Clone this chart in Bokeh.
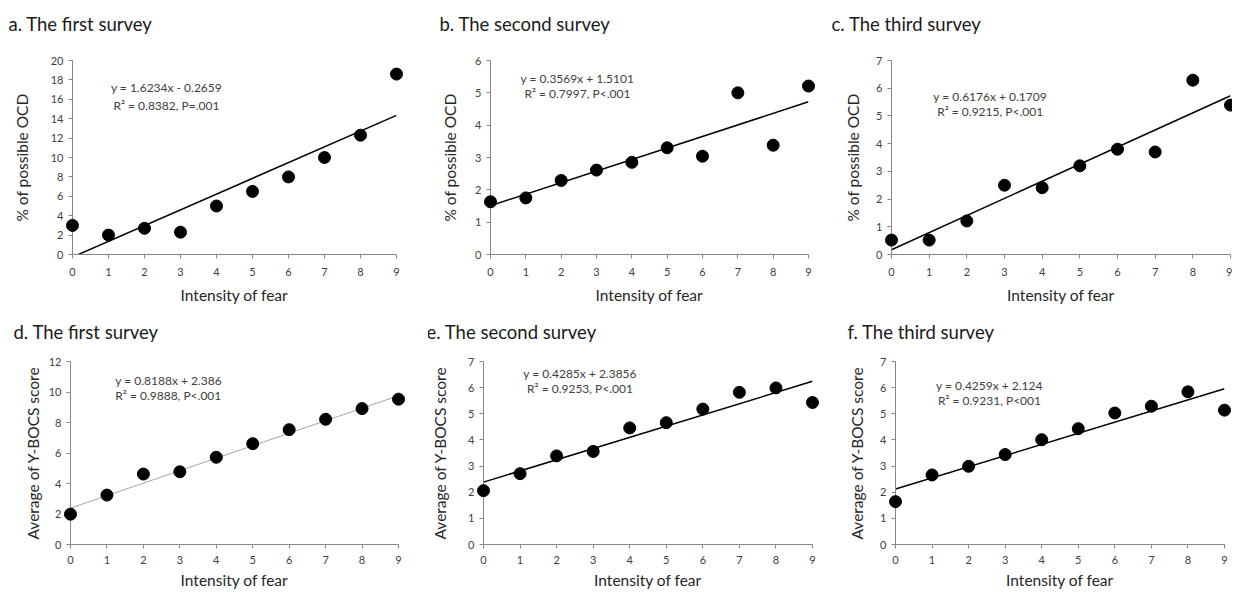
from bokeh.plotting import figure
from bokeh.layouts import row, column
from bokeh.models import Label, FixedTicker, Range1d, Title
from bokeh.embed import file_html
from bokeh.resources import INLINE

# ---------------- data ----------------
fear = [0, 1, 2, 3, 4, 5, 6, 7, 8, 9]

ocd_first = [3.0, 2.0, 2.7, 2.3, 5.0, 6.5, 8.0, 10.0, 12.3, 18.6]
ocd_second = [1.63, 1.75, 2.29, 2.61, 2.85, 3.30, 3.04, 5.0, 3.38, 5.21]
ocd_third = [0.52, 0.52, 1.21, 2.50, 2.41, 3.20, 3.80, 3.70, 6.29, 5.39]
ybocs_first = [1.99, 3.24, 4.62, 4.77, 5.72, 6.61, 7.53, 8.21, 8.91, 9.53]
ybocs_second = [2.06, 2.71, 3.39, 3.56, 4.46, 4.66, 5.18, 5.82, 5.99, 5.43]
ybocs_third = [1.64, 2.66, 2.99, 3.44, 4.01, 4.43, 5.03, 5.29, 5.84, 5.14]

slopes = [1.6234, 0.3569, 0.6176, 0.8188, 0.4285, 0.4259]
intercepts = [-0.2659, 1.5101, 0.1709, 2.386, 2.3856, 2.124]

titles = ["a. The first survey", "b. The second survey", "c. The third survey",
          "d. The first survey", "e. The second survey", "f. The third survey"]
equations = ["y = 1.6234x - 0.2659", "y = 0.3569x + 1.5101", "y = 0.6176x + 0.1709",
             "y = 0.8188x + 2.386", "y = 0.4285x + 2.3856", "y = 0.4259x + 2.124"]
stats = ["R\u00b2 = 0.8382, P=.001", "R\u00b2 = 0.7997, P<.001", "R\u00b2 = 0.9215, P<.001",
         "R\u00b2 = 0.9888, P<.001", "R\u00b2 = 0.9253, P<.001", "R\u00b2 = 0.9231, P<001"]
y_labels = ["% of possible OCD"] * 3 + ["Average of Y-BOCS score"] * 3
x_label = "Intensity of fear"
y_max = [20, 6, 7, 12, 7, 7]
y_step = [2, 1, 1, 2, 1, 1]
series = [ocd_first, ocd_second, ocd_third, ybocs_first, ybocs_second, ybocs_third]

# ---------------- layout / style ----------------
FONT = "Lato"
AXIS_COLOR = "#868686"
TEXT_COLOR = "#404040"

# lb/rb: borders, fw: frame width, ylab: y-label standoff,
# tx: title left relative to frame left (px), ex/ey: equation anchor
geo = [
    dict(lb=72, fw=324, rb=30, ylab=17, tx=-64, ex=2.61, ey1=17.2, ey2=15.4, al="center", lc="black", lw=1.5),
    dict(lb=64, fw=318, rb=15, ylab=13, tx=-51, ex=2.46, ey1=5.44, ey2=4.98, al="center", lc="black", lw=1.5),
    dict(lb=68, fw=339, rb=2, ylab=11, tx=-60, ex=2.62, ey1=5.70, ey2=5.16, al="center", lc="black", lw=1.5),
    dict(lb=70, fw=328, rb=30, ylab=4, tx=-57, ex=1.23, ey1=10.75, ey2=9.77, al="left", lc="#a6a6a6", lw=1.0),
    dict(lb=51, fw=329, rb=15, ylab=16, tx=-57, ex=2.64, ey1=6.54, ey2=5.96, al="center", lc="black", lw=1.5),
    dict(lb=68, fw=329, rb=12, ylab=11, tx=-48, ex=2.57, ey1=6.08, ey2=5.50, al="center", lc="black", lw=1.5),
]
# gap: spacer between frame and title block
row_geo = [
    dict(tb=60, fh=194, bb=52, gap=22, lstand=9, astand=7),
    dict(tb=55, fh=183, bb=47, gap=15, lstand=7, astand=4),
]


def make_panel(i):
    g = geo[i]
    r = row_geo[i // 3]
    x0, x1 = fear[0], fear[-1]
    p = figure(frame_width=g["fw"], frame_height=r["fh"],
               min_border_left=g["lb"], min_border_right=g["rb"],
               min_border_top=r["tb"], min_border_bottom=r["bb"],
               x_range=Range1d(x0, x1), y_range=Range1d(0, y_max[i]),
               toolbar_location=None, output_backend="svg",
               background_fill_color="white", border_fill_color="white")
    p.outline_line_color = None
    p.xgrid.grid_line_color = None
    p.ygrid.grid_line_color = None

    p.xaxis.ticker = FixedTicker(ticks=fear)
    p.yaxis.ticker = FixedTicker(ticks=list(range(0, y_max[i] + 1, y_step[i])))
    for ax in (p.xaxis, p.yaxis):
        ax.axis_line_color = AXIS_COLOR
        ax.axis_line_width = 1
        ax.major_tick_line_color = AXIS_COLOR
        ax.major_tick_out = 4
        ax.major_tick_in = 0
        ax.minor_tick_line_color = None
        ax.major_label_text_font = FONT
        ax.major_label_text_font_size = "11px"
        ax.major_label_text_color = TEXT_COLOR
        ax.axis_label_text_font = FONT
        ax.axis_label_text_font_size = "15.5px"
        ax.axis_label_text_font_style = "normal"
        ax.axis_label_text_color = "#262626"
    p.xaxis.axis_label = x_label
    p.yaxis.axis_label = y_labels[i]
    p.xaxis.major_label_standoff = r["lstand"]
    p.xaxis.axis_label_standoff = r["astand"]
    p.yaxis.major_label_standoff = 5
    p.yaxis.axis_label_standoff = g["ylab"]

    # trend line computed from slope / intercept
    xs = [x0, x1]
    ys = [intercepts[i] + slopes[i] * x for x in xs]
    p.line(xs, ys, line_color=g["lc"], line_width=g["lw"])

    # data points
    p.scatter(fear, series[i], marker="circle", size=12,
              fill_color="black", line_color="black", level="overlay")

    # equation text
    for yv, txt in ((g["ey1"], equations[i]), (g["ey2"], stats[i])):
        p.add_layout(Label(x=g["ex"], y=yv, text=txt, text_align=g["al"],
                           text_baseline="middle", text_font=FONT,
                           text_font_size="12px", text_color=TEXT_COLOR))

    # spacer (closest to the frame), then the panel title above it
    p.add_layout(Title(text=" ", text_font_size="1px", standoff=r["gap"]), "above")
    p.add_layout(Title(text=titles[i], align="left", offset=g["tx"],
                       standoff=2, text_font=FONT,
                       text_font_size="18.5px", text_font_style="normal",
                       text_color="#1a1a1a"), "above")
    return p


panels = [make_panel(i) for i in range(6)]
layout = column(row(*panels[:3], spacing=0), row(*panels[3:], spacing=0), spacing=0)

open("out.html", "w").write(file_html(layout, INLINE))
